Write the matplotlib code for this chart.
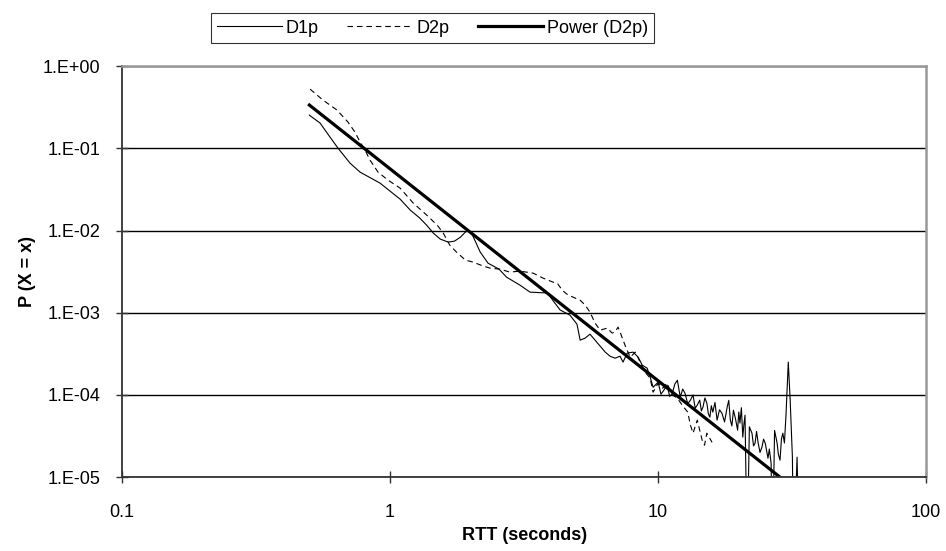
"""
RTT distribution (log-log) with power trend line
"""
import matplotlib.pyplot as plt
from matplotlib.ticker import FixedLocator, FixedFormatter, NullLocator

plt.rcParams['font.family'] = ['Liberation Sans', 'DejaVu Sans']

# D1p series (values below 1e-5 are the drops to zero seen in the picture)
d1p_x = [0.50, 0.548, 0.597, 0.640, 0.709, 0.773, 0.918, 1.09, 1.19, 1.29,
         1.37, 1.45, 1.54, 1.65, 1.74, 1.83, 1.91, 1.96, 2.03, 2.17,
         2.32, 2.55, 2.72, 3.05, 3.33, 3.86, 4.31, 4.69, 4.98, 5.12,
         5.34, 5.57, 5.82, 6.08, 6.35, 6.62, 6.91, 7.21, 7.40, 7.67,
         8.07, 8.43, 8.72, 9.10, 9.34, 9.58, 10.0, 10.25, 10.5, 10.8,
         11.05, 11.3, 11.55, 11.8, 12.1, 12.35, 12.6, 12.9, 13.2, 13.5,
         13.75, 14.0, 14.3, 14.5, 14.7, 14.95, 15.2, 15.4, 15.6, 15.8,
         16.0, 16.3, 16.6, 16.95, 17.3, 17.7, 18.1, 18.35, 18.6, 18.85,
         19.1, 19.45, 19.8, 20.0, 20.2, 20.45, 20.7, 20.9, 21.1, 21.5,
         21.9, 22.4, 22.7, 23.0, 23.3, 23.6, 24.0, 24.4, 24.75, 25.1,
         25.4, 25.7, 26.0, 26.4, 26.7, 27.2, 27.8, 28.1, 28.5, 28.85,
         29.2, 29.6, 30.0, 30.6, 31.1, 31.7, 32.0, 33.0, 33.6]
d1p_y = [0.253, 0.203, 0.137, 0.100, 0.0661, 0.0513, 0.0377, 0.0241, 0.0177, 0.0142,
         0.0116, 0.0093, 0.00786, 0.00723, 0.00744, 0.0083, 0.00957, 0.0101, 0.00879, 0.00546,
         0.00401, 0.00339, 0.00271, 0.00217, 0.00178, 0.00174, 0.00108, 9.35e-4, 7.27e-4, 4.64e-4,
         4.91e-4, 5.49e-4, 4.64e-4, 3.92e-4, 3.32e-4, 2.96e-4, 2.80e-4, 2.96e-4, 2.51e-4, 3.23e-4,
         3.32e-4, 2.88e-4, 2.31e-4, 2.12e-4, 1.65e-4, 1.24e-4, 1.43e-4, 1.02e-4, 1.14e-4, 1.32e-4,
         9.6e-5, 1.05e-4, 1.36e-4, 1.51e-4, 9.4e-5, 1.18e-4, 1.05e-4, 7.8e-5, 8.65e-5, 1.0e-4,
         6.9e-5, 7.52e-5, 8.65e-5, 6.4e-5, 7.11e-5, 9.2e-5, 7.95e-5, 5.9e-5, 5.37e-5, 7.4e-5,
         6.18e-5, 8.1e-5, 4.94e-5, 6.6e-5, 6.01e-5, 4.7e-5, 7.11e-5, 8.6e-5, 4.94e-5, 4.2e-5,
         6.53e-5, 5.1e-5, 3.73e-5, 6.2e-5, 4.54e-5, 7.0e-5, 3.07e-5, 4.4e-5, 5.68e-5, 1e-6,
         4.1e-5, 3.43e-5, 2.4e-5, 2.59e-5, 3.6e-5, 2.65e-5, 2.0e-5, 2.32e-5, 2.9e-5, 2.59e-5,
         2.1e-5, 1.70e-5, 2.2e-5, 1.48e-5, 1e-6, 3.7e-5, 2.59e-5, 1.9e-5, 1.61e-5, 2.9e-5,
         3.43e-5, 2.6e-5, 5.68e-5, 2.51e-4, 8.65e-5, 1.75e-5, 1e-6, 1.75e-5, 1e-6]

# D2p series
d2p_x = [0.503, 0.562, 0.634, 0.697, 0.740, 0.773, 0.807, 0.842, 0.902, 0.983,
         1.09, 1.22, 1.37, 1.50, 1.58, 1.67, 1.77, 1.91, 2.04, 2.23,
         2.36, 2.57, 2.80, 3.05, 3.42, 3.72, 4.05, 4.20, 4.39, 4.57,
         4.81, 5.12, 5.34, 5.57, 5.82, 6.08, 6.46, 6.74, 6.91, 7.09,
         7.21, 7.33, 7.60, 7.87, 8.22, 8.57, 8.95, 9.34, 9.58, 10.0,
         10.4, 10.8, 11.3, 11.8, 12.3, 12.9, 13.2, 13.5, 14.0, 14.6,
         14.9, 15.2, 15.9]
d2p_y = [0.525, 0.386, 0.292, 0.208, 0.157, 0.119, 0.095, 0.0718, 0.0513, 0.0410,
         0.0328, 0.0216, 0.0154, 0.0116, 0.0093, 0.00664, 0.00546, 0.00437, 0.00413, 0.00369,
         0.00349, 0.00339, 0.00312, 0.00321, 0.00303, 0.00264, 0.00236, 0.0023, 0.00188, 0.00168,
         0.00155, 0.00142, 0.00124, 0.00102, 7.47e-4, 6.14e-4, 6.5e-4, 5.65e-4, 5.85e-4, 6.68e-4,
         5.85e-4, 5.05e-4, 3.71e-4, 2.88e-4, 3.32e-4, 2.51e-4, 1.89e-4, 1.60e-4, 1.08e-4, 1.39e-4,
         1.21e-4, 1.39e-4, 1.0e-4, 9.15e-5, 7.52e-5, 6.18e-5, 4.29e-5, 3.43e-5, 4.94e-5, 2.82e-5,
         2.45e-5, 3.43e-5, 2.65e-5]

# Power (D2p) trend line end points
power_x = [0.5, 28.5]
power_y = [0.336, 1e-5]

x_ticks = [0.1, 1, 10, 100]
x_tick_labels = ['0.1', '1', '10', '100']
y_ticks = [1e-5, 1e-4, 1e-3, 1e-2, 1e-1, 1]
y_tick_labels = ['1.E-05', '1.E-04', '1.E-03', '1.E-02', '1.E-01', '1.E+00']

fig = plt.figure(figsize=(9.46, 5.51), dpi=100)
ax = fig.add_axes([0.129, 0.134, 0.850, 0.746])

ax.plot(d1p_x, d1p_y, color='black', linewidth=0.8, label='D1p')
ax.plot(d2p_x, d2p_y, color='black', linewidth=0.8, linestyle=(0, (5, 3.5)), label='D2p')
ax.plot(power_x, power_y, color='black', linewidth=2.3, label='Power (D2p)')

ax.set_xscale('log')
ax.set_yscale('log')
ax.set_xlim(0.1, 100)
ax.set_ylim(1e-5, 1)

ax.xaxis.set_major_locator(FixedLocator(x_ticks))
ax.xaxis.set_major_formatter(FixedFormatter(x_tick_labels))
ax.xaxis.set_minor_locator(NullLocator())
ax.yaxis.set_major_locator(FixedLocator(y_ticks))
ax.yaxis.set_major_formatter(FixedFormatter(y_tick_labels))
ax.yaxis.set_minor_locator(NullLocator())

ax.tick_params(axis='both', direction='inout', length=9, width=1, color='#333333',
               labelsize=13)
ax.tick_params(axis='x', pad=15)
ax.tick_params(axis='y', pad=11)
ax.grid(True, axis='y', color='black', linewidth=1)

for side in ['left', 'bottom']:
    ax.spines[side].set_color('#333333')
    ax.spines[side].set_linewidth(1.3)
for side in ['top', 'right']:
    ax.spines[side].set_color('#999999')
    ax.spines[side].set_linewidth(1.8)

ax.set_xlabel('RTT (seconds)', fontsize=13, fontweight='bold', labelpad=4)
ax.set_ylabel('P (X = x)', fontsize=13, fontweight='bold', labelpad=5)

leg = fig.legend(loc='center', bbox_to_anchor=(0.457, 0.949), ncol=3, fontsize=13,
                 frameon=True, fancybox=False, edgecolor='black', handlelength=3.6,
                 handletextpad=0.2, columnspacing=1.6, borderpad=0.35)
leg.get_frame().set_linewidth(0.8)

plt.savefig('out.png', dpi=100)
